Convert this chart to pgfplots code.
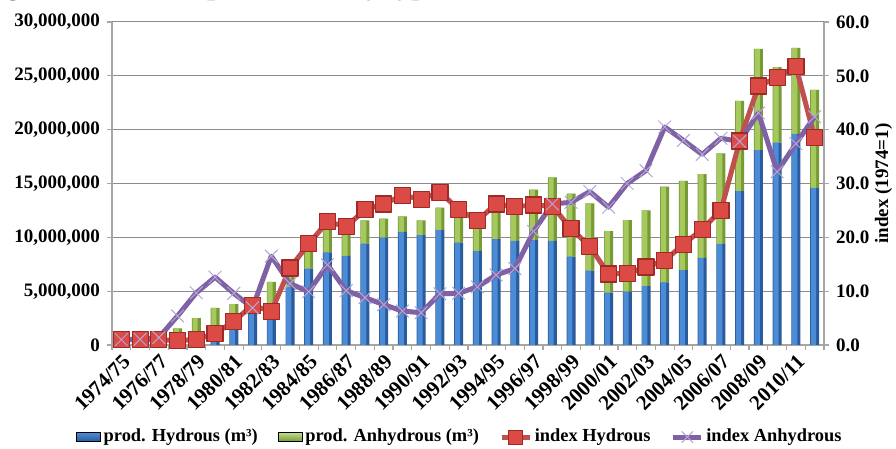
\documentclass[border=0pt]{standalone}
\usepackage{fontspec}
\setmainfont{Liberation Serif}
\usepackage{pgfplots}
\pgfplotsset{compat=1.18}
\usepackage{pgfplotstable}
\usetikzlibrary{calc}

\definecolor{hydD}{HTML}{2A5B9C}
\definecolor{hydL}{HTML}{4C8BD6}
\definecolor{anhD}{HTML}{779A35}
\definecolor{anhL}{HTML}{A6C95F}
\definecolor{redL}{HTML}{C0504D}
\definecolor{redF}{HTML}{DC4A45}
\definecolor{redB}{HTML}{9E2A27}
\definecolor{purL}{HTML}{7F62A5}
\definecolor{purX}{HTML}{B3A5D6}
\definecolor{gridc}{HTML}{8C8C8C}
\definecolor{axc}{HTML}{A6A6A6}

% production in m3, index 1974=1
\pgfplotstableread{
i hyd anh ih ia
0 380000 250000 1.0 1.0
1 380000 250000 1.0 1.05
2 380000 350000 1.0 1.4
3 300000 1240000 0.8 5.4
4 400000 2100000 1.05 9.7
5 800000 2650000 2.1 12.6
6 1650000 2150000 4.4 9.6
7 2900000 1300000 7.4 6.9
8 2300000 3560000 6.2 16.5
9 5400000 1000000 14.3 11.4
10 7100000 1800000 18.8 9.9
11 8600000 2300000 22.9 14.9
12 8270000 2030000 22.0 10.1
13 9410000 2160000 25.1 8.8
14 9970000 1760000 26.2 7.5
15 10500000 1440000 27.8 6.3
16 10200000 1370000 27.1 6.0
17 10700000 2050000 28.4 9.5
18 9500000 2400000 25.2 9.6
19 8750000 2290000 23.1 10.8
20 9840000 2660000 26.2 13.0
21 9680000 2620000 25.7 14.2
22 9740000 4700000 26.0 21.1
23 9680000 5880000 25.8 26.2
24 8200000 5870000 21.6 26.5
25 6900000 6250000 18.3 28.5
26 4860000 5720000 13.2 25.6
27 4950000 6650000 13.3 30.0
28 5470000 7030000 14.5 32.4
29 5810000 8890000 15.7 40.5
30 6960000 8290000 18.7 38.0
31 8100000 7770000 21.5 35.4
32 9400000 8400000 25.0 38.4
33 14300000 8370000 37.9 37.8
34 18100000 9400000 48.1 43.1
35 18800000 7000000 49.7 32.2
36 19600000 8000000 51.8 37.4
37 14600000 9100000 38.5 42.4
}\data

\pgfplotsset{
  base/.style={width=356pt, height=161.5pt, scale only axis, xmin=-0.5, xmax=37.5,
    axis line style={axc, line width=0.6pt}, tick style={axc, line width=0.6pt},
    tick align=outside, major tick length=2.5pt, minor tick length=2.5pt,
    yticklabel style={font=\fontsize{9.5}{11}\selectfont\bfseries}},
  shortline/.style={legend image code/.code={\draw[##1, mark repeat=2, mark phase=2] plot coordinates {(0pt,0pt) (7pt,0pt) (14pt,0pt)};}},
  hydbox/.style={legend image code/.code={\shade[top color=hydL, bottom color=hydD] (0pt,-2.2pt) rectangle (12pt,2.2pt);}},
  anhbox/.style={legend image code/.code={\shade[top color=anhL!70!white, bottom color=anhD] (0pt,-2.2pt) rectangle (12pt,2.2pt);}},
}

\begin{document}
\begin{tikzpicture}
\begin{axis}[base, name=ax,
  ybar stacked, bar width=4.5pt,
  axis y line*=left, axis x line*=bottom,
  ymin=0, ymax=30000000, ytick={0,5000000,...,30000000},
  scaled y ticks=false,
  yticklabel style={/pgf/number format/.cd, fixed, precision=0, 1000 sep={,}, assume math mode=true},
  ymajorgrids, grid style={gridc, line width=0.5pt},
  xtick={0,2,...,36},
  xticklabels={1974/75,1976/77,1978/79,1980/81,1982/83,1984/85,1986/87,1988/89,1990/91,1992/93,1994/95,1996/97,1998/99,2000/01,2002/03,2004/05,2006/07,2008/09,2010/11},
  major x tick style={draw=none},
  minor xtick={-0.5,0.5,...,37.5},
  xticklabel style={rotate=45, anchor=north east, inner sep=1pt, font=\fontsize{10.5}{12}\selectfont\bfseries},
]
\addplot[draw=none, fill=hydD] table[x=i, y=hyd]{\data};
\addplot[draw=none, fill=anhD] table[x=i, y=anh]{\data};
\end{axis}

% lighter strip on each bar, stacked the same way
\begin{axis}[base, hide axis, ybar stacked, bar width=2.6pt, bar shift=-0.6pt,
  ymin=0, ymax=30000000]
\addplot[draw=none, fill=hydL] table[x=i, y=hyd]{\data};
\addplot[draw=none, fill=anhL] table[x=i, y=anh]{\data};
\end{axis}

\begin{axis}[base,
  axis x line=none, axis y line*=right,
  ymin=0, ymax=60, ytick={0,10,...,60},
  yticklabel style={/pgf/number format/.cd, fixed, fixed zerofill, precision=1, assume math mode=true},
  ylabel={index (1974=1)},
  ylabel style={font=\fontsize{9.5}{11}\selectfont\bfseries, yshift=4pt},
  legend style={at={(0.489,-0.285)}, anchor=center, draw=none, fill=none,
    font=\fontsize{9.2}{11}\selectfont\bfseries, nodes={inner sep=1.2pt},
    /tikz/every even column/.append style={column sep=9pt}},
  legend columns=4, legend cell align=left,
]
\addlegendimage{hydbox}
\addlegendentry{prod. Hydrous (m³)}
\addlegendimage{anhbox}
\addlegendentry{prod. Anhydrous (m³)}
\addlegendimage{redL, line width=2.5pt, mark=square*, mark size=3.5pt, mark options={fill=redF, draw=redB, line width=0.5pt}, shortline}
\addlegendentry{index Hydrous}
\addlegendimage{purL, line width=2.5pt, mark=x, mark size=4pt, mark options={purX, line width=0.5pt}, shortline}
\addlegendentry{index Anhydrous}

\addplot[redL, line width=2.5pt, line join=round, mark=square*, mark size=4pt, mark options={fill=redF, draw=redB, line width=0.6pt}, forget plot] table[x=i, y=ih]{\data};
\addplot[purL, line width=2.5pt, line join=round, mark=x, mark size=4.5pt, mark options={purX, line width=0.5pt}, forget plot] table[x=i, y=ia]{\data};
\end{axis}

\node[anchor=base west, inner sep=0pt, font=\fontsize{14.4}{16}\selectfont\bfseries] at ($(ax.north west)+(-66pt,13.5pt)$) {Figure 2: Ethanol production by type of ethanol (1974-2012)};
\pgfresetboundingbox
\useasboundingbox ($(ax.south west)+(-56pt,-51.5pt)$) rectangle ($(ax.north east)+(36pt,11pt)$);
\end{tikzpicture}
\end{document}
